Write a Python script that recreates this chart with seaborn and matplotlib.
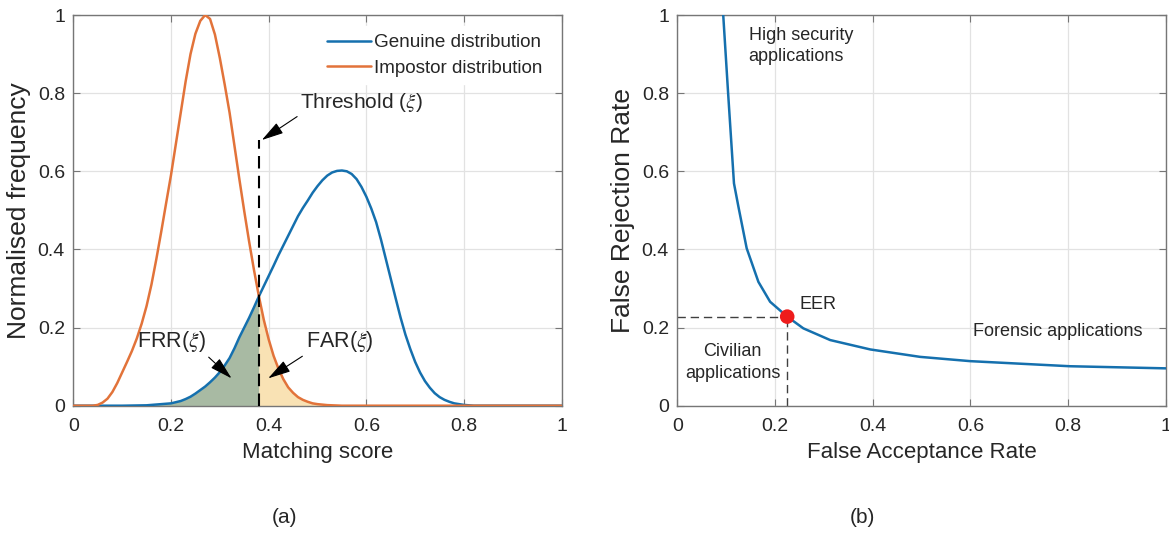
import numpy as np
import pandas as pd
import matplotlib
matplotlib.use('Agg')
import matplotlib.pyplot as plt
import seaborn as sns

# ---------------- data ----------------
score_genuine = [0.00, 0.10, 0.15, 0.20, 0.21, 0.22, 0.23, 0.24, 0.25, 0.26, 0.27, 0.28,
                 0.29, 0.30, 0.31, 0.32, 0.33, 0.34, 0.35, 0.36, 0.37, 0.38, 0.39, 0.40,
                 0.41, 0.42, 0.43, 0.44, 0.45, 0.46, 0.47, 0.48, 0.49, 0.50, 0.51, 0.52,
                 0.53, 0.54, 0.55, 0.56, 0.57, 0.58, 0.59, 0.60, 0.61, 0.62, 0.63, 0.64,
                 0.65, 0.66, 0.67, 0.68, 0.69, 0.70, 0.71, 0.72, 0.73, 0.74, 0.75, 0.76,
                 0.77, 0.78, 0.79, 0.80, 0.82, 1.00]
genuine = [0.0, 0.0, 0.001, 0.006, 0.009, 0.012, 0.017, 0.023, 0.031, 0.040, 0.049, 0.060,
           0.072, 0.086, 0.103, 0.122, 0.147, 0.175, 0.200, 0.225, 0.252, 0.280, 0.306, 0.332,
           0.358, 0.385, 0.410, 0.435, 0.460, 0.485, 0.506, 0.525, 0.545, 0.562, 0.577, 0.589,
           0.597, 0.601, 0.602, 0.600, 0.593, 0.580, 0.560, 0.535, 0.505, 0.470, 0.425, 0.375,
           0.325, 0.275, 0.226, 0.182, 0.145, 0.112, 0.085, 0.063, 0.046, 0.032, 0.022, 0.015,
           0.010, 0.006, 0.004, 0.002, 0.0, 0.0]

score_impostor = [0.00, 0.04, 0.05, 0.06, 0.07, 0.08, 0.09, 0.10, 0.11, 0.12, 0.13, 0.14,
                  0.15, 0.16, 0.17, 0.18, 0.19, 0.20, 0.21, 0.22, 0.23, 0.24, 0.25, 0.26,
                  0.27, 0.28, 0.29, 0.30, 0.31, 0.32, 0.33, 0.34, 0.35, 0.36, 0.37, 0.38,
                  0.39, 0.40, 0.41, 0.42, 0.43, 0.44, 0.45, 0.46, 0.47, 0.48, 0.49, 0.50,
                  0.52, 0.55, 1.00]
impostor = [0.0, 0.0, 0.002, 0.008, 0.018, 0.035, 0.058, 0.085, 0.112, 0.140, 0.172, 0.210,
            0.255, 0.310, 0.375, 0.445, 0.518, 0.590, 0.670, 0.750, 0.830, 0.900, 0.952, 0.985,
            1.000, 0.990, 0.950, 0.890, 0.822, 0.750, 0.665, 0.580, 0.498, 0.420, 0.347, 0.280,
            0.220, 0.170, 0.128, 0.095, 0.068, 0.047, 0.033, 0.022, 0.015, 0.010, 0.006, 0.004,
            0.0015, 0.0, 0.0]

threshold = 0.38
threshold_top = 0.68

far = [0.094, 0.104, 0.116, 0.125, 0.142, 0.166, 0.190, 0.225, 0.258, 0.313, 0.395,
       0.497, 0.600, 0.804, 1.000]
frr = [1.000, 0.800, 0.569, 0.510, 0.403, 0.317, 0.266, 0.228, 0.198, 0.168, 0.144,
       0.125, 0.114, 0.101, 0.0956]
eer_far = 0.225
eer_frr = 0.228

ticks = [0, 0.2, 0.4, 0.6, 0.8, 1]
tick_labels = ['0', '0.2', '0.4', '0.6', '0.8', '1']

# ---------------- style ----------------
sns.set_theme(style='whitegrid')
plt.rcParams['font.family'] = ['Liberation Sans', 'DejaVu Sans']
plt.rcParams['mathtext.fontset'] = 'stix'

BLUE = '#1570AE'
ORANGE = '#E2733A'
GREEN_FILL = '#a8baa3'
YELLOW_FILL = '#f9e2b4'
SPINE = '#767676'
TXT = '#262626'

fig = plt.figure(figsize=(11.69, 5.36), dpi=100)
ax1 = fig.add_axes([0.0627, 0.2431, 0.4178, 0.7289])
ax2 = fig.add_axes([0.5794, 0.2431, 0.4178, 0.7289])


def style_axes(ax):
    ax.set_xlim(0, 1)
    ax.set_ylim(0, 1)
    ax.set_xticks(ticks)
    ax.set_yticks(ticks)
    ax.set_xticklabels(tick_labels)
    ax.set_yticklabels(tick_labels)
    ax.grid(True, color='#e2e2e2', linewidth=0.9)
    ax.set_facecolor('white')
    for s in ax.spines.values():
        s.set_visible(True)
        s.set_color(SPINE)
        s.set_linewidth(1.0)
    ax.tick_params(direction='in', length=5, width=0.8, color=SPINE,
                   top=True, right=True, bottom=True, left=True,
                   labelsize=14, labelcolor=TXT)
    ax.tick_params(axis='x', pad=9)
    ax.tick_params(axis='y', pad=6)


# ---------------- left panel ----------------
dg = pd.DataFrame({'score': score_genuine, 'freq': genuine})
di = pd.DataFrame({'score': score_impostor, 'freq': impostor})

mask_g = dg['score'] <= threshold
ax1.fill_between(dg['score'][mask_g], dg['freq'][mask_g], 0, color=GREEN_FILL, lw=0, zorder=1)
mask_i = di['score'] >= threshold
ax1.fill_between(di['score'][mask_i], di['freq'][mask_i], 0, color=YELLOW_FILL, lw=0, zorder=1)

sns.lineplot(data=dg, x='score', y='freq', ax=ax1, color=BLUE, lw=1.8,
             label='Genuine distribution', zorder=3)
sns.lineplot(data=di, x='score', y='freq', ax=ax1, color=ORANGE, lw=1.8,
             label='Impostor distribution', zorder=3)

ax1.vlines(threshold, 0, threshold_top, colors='black', linestyles=(0, (6, 3.5)),
           lw=1.5, zorder=4)

style_axes(ax1)
ax1.set_xlabel('Matching score', fontsize=16, color=TXT, labelpad=5)
ax1.set_ylabel('Normalised frequency', fontsize=19, color=TXT, labelpad=5)

leg = ax1.legend(loc='upper right', bbox_to_anchor=(1.0, 1.0), fontsize=13.6,
                 handlelength=2.3, handletextpad=0.2, labelspacing=0.45,
                 frameon=True, borderaxespad=0.6)
leg.get_frame().set_facecolor('white')
leg.get_frame().set_edgecolor('white')
leg.get_frame().set_alpha(1)

arrow = dict(arrowstyle='-|>,head_length=0.9,head_width=0.25', color='black', lw=0.8,
             shrinkA=0, shrinkB=0)
ax1.annotate('Threshold (' + r'$\xi$' + ')', xy=(0.386, 0.68), xytext=(0.465, 0.775),
             fontsize=15, color=TXT, ha='left', va='center',
             arrowprops=dict(arrow, relpos=(0.0, 0.0)))
ax1.annotate('FRR(' + r'$\xi$' + ')', xy=(0.324, 0.07), xytext=(0.20, 0.164),
             fontsize=15.5, color=TXT, ha='center', va='center',
             arrowprops=dict(arrow, relpos=(1.0, 0.0)))
ax1.annotate('FAR(' + r'$\xi$' + ')', xy=(0.399, 0.07), xytext=(0.545, 0.164),
             fontsize=15.5, color=TXT, ha='center', va='center',
             arrowprops=dict(arrow, relpos=(0.0, 0.0)))

# ---------------- right panel ----------------
dr = pd.DataFrame({'FAR': far, 'FRR': frr})
ax2.hlines(eer_frr, 0, eer_far, colors='#404040', linestyles=(0, (6, 3.5)), lw=1.0, zorder=2)
ax2.vlines(eer_far, 0, eer_frr, colors='#404040', linestyles=(0, (6, 3.5)), lw=1.0, zorder=2)
sns.lineplot(data=dr, x='FAR', y='FRR', ax=ax2, color=BLUE, lw=1.8, sort=False, zorder=3)
sns.scatterplot(x=[eer_far], y=[eer_frr], ax=ax2, color='#ee1c1c', s=110,
                edgecolor='none', zorder=4)

style_axes(ax2)
ax2.set_xlabel('False Acceptance Rate', fontsize=16, color=TXT, labelpad=5)
ax2.set_ylabel('False Rejection Rate', fontsize=19, color=TXT, labelpad=5)

ax2.text(0.146, 0.97, 'High security\napplications', fontsize=13, color=TXT,
         ha='left', va='top', linespacing=1.3)
ax2.text(0.25, 0.258, 'EER', fontsize=13, color=TXT, ha='left', va='center')
ax2.text(0.605, 0.19, 'Forensic applications', fontsize=13, color=TXT,
         ha='left', va='center')
ax2.text(0.113, 0.11, 'Civilian\napplications', fontsize=13, color=TXT,
         ha='center', va='center', linespacing=1.4)

fig.text(0.2437, 0.034, '(a)', fontsize=15, color=TXT, ha='center', va='center')
fig.text(0.7378, 0.034, '(b)', fontsize=15, color=TXT, ha='center', va='center')

fig.savefig('out.png', dpi=100, facecolor='white')
